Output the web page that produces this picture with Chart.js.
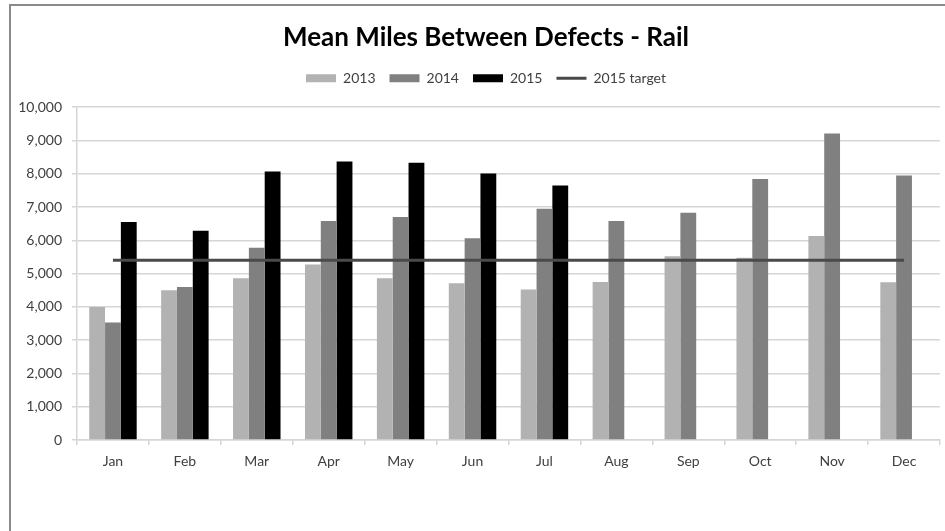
<!DOCTYPE html>
<html>
<head>
<meta charset="utf-8">
<title>Mean Miles Between Defects - Rail</title>
<script src="https://cdn.jsdelivr.net/npm/chart.js@4.4.1/dist/chart.umd.min.js"></script>
<style>
  html, body { margin: 0; padding: 0; background: #fff; overflow: hidden; }
  #frame {
    position: absolute; left: 9px; top: 4px;
    width: 1000px; height: 1000px;
    border: 2px solid #8a8a8a;
  }
  #wrap { position: absolute; left: 0; top: 0; width: 945px; height: 531px; }
</style>
</head>
<body>
<div id="frame"></div>
<div id="wrap"><canvas id="mainChart" width="945" height="531"></canvas></div>
<script>
// ============================================================
// Data
// ============================================================
const months = ["Jan", "Feb", "Mar", "Apr", "May", "Jun", "Jul", "Aug", "Sep", "Oct", "Nov", "Dec"];
const miles2013 = [4000, 4500, 4860, 5270, 4860, 4710, 4520, 4750, 5520, 5480, 6130, 4740];
const miles2014 = [3530, 4600, 5780, 6580, 6700, 6060, 6950, 6580, 6830, 7840, 9210, 7950];
const miles2015 = [6550, 6290, 8070, 8370, 8330, 8010, 7650, null, null, null, null, null];
const target2015 = [5400, 5400, 5400, 5400, 5400, 5400, 5400, 5400, 5400, 5400, 5400, 5400];
const yTicks = [0, 1000, 2000, 3000, 4000, 5000, 6000, 7000, 8000, 9000, 10000];

const FONT = "Lato, 'Open Sans', 'Liberation Sans', sans-serif";
const textColor = "#404040";
const gridColor = "#d6d6d6";

// Excel's plot starts a bit lower, and its title/legend are centred on the
// whole (wider) chart object, so nudge the title + legend boxes a little
const excelLayout = {
  id: "excelLayout",
  beforeInit(chart) {
    const fit = chart.legend.fit;
    chart.legend.fit = function () {
      fit.call(this);
      this.height += 12;
    };
  },
  afterLayout(chart) {
    [chart.titleBlock, chart.legend].forEach(box => {
      if (!box) return;
      box.left += 16;
      box.right += 16;
    });
  }
};

const ctx = document.getElementById("mainChart").getContext("2d");

new Chart(ctx, {
  type: "bar",
  data: {
    labels: months,
    datasets: [
      { label: "2013", data: miles2013, backgroundColor: "#b2b2b2", order: 1 },
      { label: "2014", data: miles2014, backgroundColor: "#808080", order: 1 },
      { label: "2015", data: miles2015, backgroundColor: "#000000", order: 1 },
      {
        type: "line",
        label: "2015 target",
        data: target2015,
        borderColor: "#4a4a4a",
        backgroundColor: "#4a4a4a",
        borderWidth: 3,
        pointRadius: 0,
        tension: 0,
        order: 0
      }
    ]
  },
  plugins: [excelLayout],
  options: {
    responsive: false,
    animation: false,
    barPercentage: 1,
    categoryPercentage: 0.66,
    layout: { padding: { left: 0, right: 5, top: 8, bottom: 61 } },
    plugins: {
      title: {
        display: true,
        text: "Mean Miles Between Defects - Rail",
        color: "#000",
        font: { family: FONT, size: 26, weight: "bold" },
        padding: { top: 14, bottom: 4 }
      },
      legend: {
        display: true,
        labels: {
          font: { family: FONT, size: 14 },
          color: textColor,
          usePointStyle: true,
          pointStyleWidth: 30,
          boxHeight: 8,
          padding: 14,
          generateLabels: chart => chart.data.datasets.map((ds, i) => ({
            text: ds.label,
            fillStyle: ds.type === "line" ? ds.borderColor : ds.backgroundColor,
            strokeStyle: ds.type === "line" ? ds.borderColor : ds.backgroundColor,
            lineWidth: ds.type === "line" ? 3 : 0,
            pointStyle: ds.type === "line" ? "line" : "rect",
            fontColor: textColor,
            hidden: false,
            datasetIndex: i
          }))
        }
      },
      tooltip: { enabled: false }
    },
    scales: {
      x: {
        afterFit: scale => { scale.height = 30; },
        grid: {
          offset: true,
          drawOnChartArea: false,
          drawTicks: true,
          tickLength: 5,
          color: gridColor,
          lineWidth: 1.5
        },
        border: { color: gridColor, width: 1.5 },
        ticks: {
          color: textColor,
          font: { family: FONT, size: 14 },
          padding: 8,
          maxRotation: 0
        }
      },
      y: {
        min: 0,
        max: 10000,
        afterFit: scale => { scale.width = 77; },
        afterBuildTicks: scale => { scale.ticks = yTicks.map(v => ({ value: v })); },
        grid: { color: gridColor, lineWidth: 1.5, tickLength: 5 },
        border: { color: gridColor, width: 1.5 },
        ticks: {
          color: textColor,
          font: { family: FONT, size: 14 },
          padding: 10,
          callback: v => v.toLocaleString("en-US")
        }
      }
    }
  }
});
</script>
</body>
</html>
